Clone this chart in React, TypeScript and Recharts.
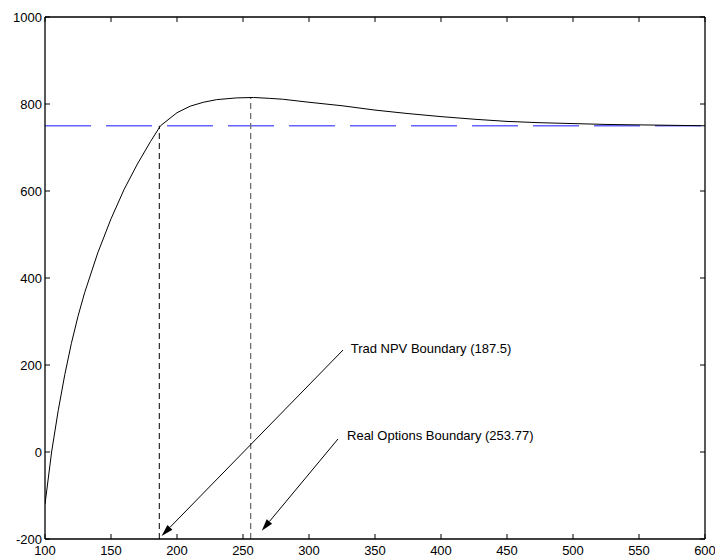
import React from 'react';
import { LineChart, Line, XAxis, YAxis, ReferenceLine, ReferenceDot } from 'recharts';

const xValues = [100, 105, 110, 115, 120, 125, 130, 140, 150, 160, 170, 180, 187.5, 200, 210, 220, 230, 245, 258, 270, 280, 300, 325, 350, 375, 400, 425, 450, 475, 500, 525, 550, 575, 600];
const npvValues = [-120, 0, 95, 178, 250, 312, 366, 458, 536, 604, 662, 714, 750, 780, 795, 804, 810, 814, 815, 813, 811, 804, 796, 786, 778, 771, 765, 760, 757, 755, 753, 752, 751, 750];
const xTicks = [100, 150, 200, 250, 300, 350, 400, 450, 500, 550, 600];
const yTicks = [-200, 0, 200, 400, 600, 800, 1000];

const tradBoundary = 186.6;
const realBoundary = 255.8;
const asymptote = 750;
const peakValue = 815;

const tradLabel = 'Trad NPV Boundary (187.5)';
const realLabel = 'Real Options Boundary (253.77)';
const tradArrow = [{ x: 325.8, y: 234.5 }, { x: 188.3, y: -193 }];
const realArrow = [{ x: 322, y: 30 }, { x: 264.2, y: -181 }];
const tradText = { x: 331.6, y: 236.8 };
const realText = { x: 328.8, y: 36.8 };

const data = xValues.map((x, i) => ({ x, npv: npvValues[i] }));

const FONT = '"Liberation Sans", Arial, sans-serif';

const Arrow = (props: any) => {
  const { x1, y1, x2, y2 } = props;
  const dx = x2 - x1;
  const dy = y2 - y1;
  const len = Math.sqrt(dx * dx + dy * dy);
  const ux = dx / len;
  const uy = dy / len;
  const hl = 12;
  const hw = 3.5;
  const bx = x2 - ux * hl;
  const by = y2 - uy * hl;
  const px = -uy;
  const py = ux;
  const pts = `${x2},${y2} ${bx + px * hw},${by + py * hw} ${bx - px * hw},${by - py * hw}`;
  return (
    <g>
      <line x1={x1} y1={y1} x2={bx} y2={by} stroke="#000" strokeWidth={1} />
      <polygon points={pts} fill="#000" />
    </g>
  );
};

const makeText = (label: string) => (props: any) => (
  <text x={props.cx} y={props.cy} dominantBaseline="central" fontSize={13} fontFamily={FONT} fill="#000">
    {label}
  </text>
);

export default function App() {
  const tickStyle = { fontSize: 13, fill: '#000', fontFamily: FONT };
  const axisStroke = { stroke: '#000', strokeWidth: 1.3 };
  return (
    <div style={{ position: 'absolute', left: 0, top: 0, background: '#fff' }}>
      <LineChart width={715} height={555} data={data} margin={{ top: 0, right: 0, bottom: 0, left: 0 }}>
        <XAxis xAxisId="b" dataKey="x" type="number" domain={[100, 600]} ticks={xTicks} orientation="bottom" height={16}
          tickSize={-5} tickMargin={12} tick={tickStyle} axisLine={axisStroke} tickLine={{ stroke: '#000' }} allowDataOverflow />
        <XAxis xAxisId="t" dataKey="x" type="number" domain={[100, 600]} ticks={xTicks} orientation="top" height={17}
          tickSize={-5} tickFormatter={() => ''} axisLine={axisStroke} tickLine={{ stroke: '#000' }} allowDataOverflow />
        <YAxis yAxisId="l" type="number" domain={[-200, 1000]} ticks={yTicks} orientation="left" width={45}
          tickSize={-5} tickMargin={8} tick={tickStyle} axisLine={axisStroke} tickLine={{ stroke: '#000' }} allowDataOverflow />
        <YAxis yAxisId="r" type="number" domain={[-200, 1000]} ticks={yTicks} orientation="right" width={10}
          tickSize={-5} tickFormatter={() => ''} axisLine={axisStroke} tickLine={{ stroke: '#000' }} allowDataOverflow />
        <ReferenceLine xAxisId="b" yAxisId="l" y={asymptote} stroke="#6464ff" strokeWidth={1.6} strokeDasharray="46 15" />
        <ReferenceLine xAxisId="b" yAxisId="l" segment={[{ x: tradBoundary, y: -200 }, { x: tradBoundary, y: asymptote }]}
          stroke="#000" strokeWidth={1} strokeDasharray="6 4" />
        <ReferenceLine xAxisId="b" yAxisId="l" segment={[{ x: realBoundary, y: -200 }, { x: realBoundary, y: peakValue }]}
          stroke="#707070" strokeWidth={1.3} strokeDasharray="6 4" />
        <Line xAxisId="b" yAxisId="l" type="linear" dataKey="npv" stroke="#000" strokeWidth={1} dot={false} isAnimationActive={false} />
        <ReferenceLine xAxisId="b" yAxisId="l" segment={tradArrow} shape={Arrow} />
        <ReferenceLine xAxisId="b" yAxisId="l" segment={realArrow} shape={Arrow} />
        <ReferenceDot xAxisId="b" yAxisId="l" x={tradText.x} y={tradText.y} r={0} shape={makeText(tradLabel)} />
        <ReferenceDot xAxisId="b" yAxisId="l" x={realText.x} y={realText.y} r={0} shape={makeText(realLabel)} />
      </LineChart>
    </div>
  );
}
